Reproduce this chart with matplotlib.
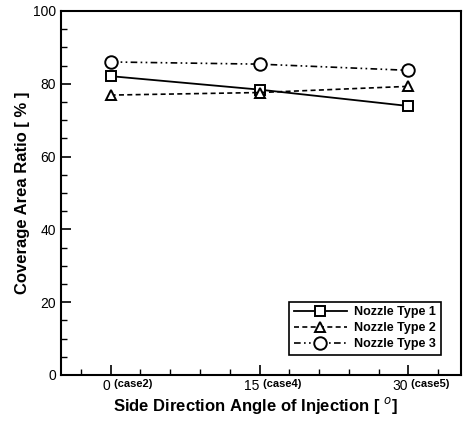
import matplotlib
matplotlib.use("Agg")
import matplotlib.pyplot as plt
from matplotlib.ticker import MultipleLocator

plt.rcParams['font.family'] = ['Liberation Sans', 'DejaVu Sans']

angles = [0, 15, 30]
case_labels = ['(case2)', '(case4)', '(case5)']
type1 = [82.1, 78.4, 73.9]
type2 = [76.9, 77.6, 79.3]
type3 = [86.0, 85.4, 83.7]
series_names = ['Nozzle Type 1', 'Nozzle Type 2', 'Nozzle Type 3']

fig = plt.figure(figsize=(4.69, 4.22), dpi=100)
ax = fig.add_axes([61/469, 1 - 375/422, 400/469, 364/422])

ax.plot(angles, type1, '-', color='black', lw=1.3, marker='s', ms=6.5, mfc='white', mec='black', mew=1.4, label=series_names[0])
ax.plot(angles, type2, '--', color='black', lw=1.2, marker='^', ms=7.5, mfc='white', mec='black', mew=1.4, label=series_names[1], dashes=(3, 2))
ax.plot(angles, type3, color='black', lw=1.2, marker='o', ms=9, mfc='white', mec='black', mew=1.4, label=series_names[2], dashes=(4, 2, 1, 2, 1, 2))

ax.set_xlim(-5, 35.3)
ax.set_ylim(0, 100)
ax.set_xticks(angles)
ax.set_xticklabels(['' for _ in angles])
for a, c in zip(angles, case_labels):
    ax.annotate(str(a), xy=(a, 0), xytext=(0, -3), textcoords='offset points', ha='right', va='top', fontsize=10)
    ax.annotate(' ' + c, xy=(a, 0), xytext=(0, -3), textcoords='offset points', ha='left', va='top', fontsize=8, fontweight='bold')
ax.xaxis.set_minor_locator(MultipleLocator(3))
ax.yaxis.set_major_locator(MultipleLocator(20))
ax.yaxis.set_minor_locator(MultipleLocator(5))
ax.tick_params(which='major', direction='in', length=7, width=1.2, labelsize=10, top=False, right=False)
ax.tick_params(which='minor', direction='in', length=4, width=1.0, top=False, right=False)
for s in ax.spines.values():
    s.set_linewidth(1.5)

fig.text(256/469, 1 - 406/422, 'Side Direction Angle of Injection [ $^o$]', fontsize=12, fontweight='bold', ha='center', va='center')
ax.set_ylabel('Coverage Area Ratio [ % ]', fontsize=12, fontweight='bold', labelpad=2)

leg = ax.legend(loc='lower right', prop={'size': 9, 'weight': 'bold'}, fancybox=False, edgecolor='black',
                framealpha=1, handlelength=4.2, handletextpad=0.6, borderaxespad=1.6, borderpad=0.4, labelspacing=0.3)
leg.get_frame().set_linewidth(1.2)

fig.savefig('out.png', dpi=100)
